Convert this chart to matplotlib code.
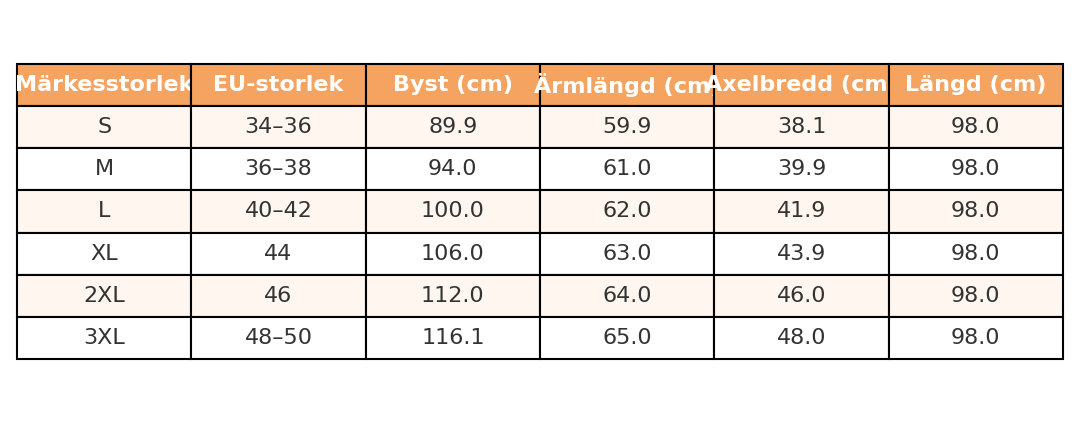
import matplotlib.pyplot as plt

# Data
columns = ['Märkesstorlek', 'EU-storlek', 'Byst (cm)', 'Ärmlängd (cm)', 'Axelbredd (cm)', 'Längd (cm)']
sizes = ['S', 'M', 'L', 'XL', '2XL', '3XL']
eu_sizes = ['34–36', '36–38', '40–42', '44', '46', '48–50']
bust = ['89.9', '94.0', '100.0', '106.0', '112.0', '116.1']
sleeve = ['59.9', '61.0', '62.0', '63.0', '64.0', '65.0']
shoulder = ['38.1', '39.9', '41.9', '43.9', '46.0', '48.0']
length = ['98.0', '98.0', '98.0', '98.0', '98.0', '98.0']

rows = [list(r) for r in zip(sizes, eu_sizes, bust, sleeve, shoulder, length)]

fig = plt.figure(figsize=(10.8, 4.24), dpi=100)
ax = fig.add_axes([0, 0, 1, 1])
ax.axis('off')

tbl = ax.table(cellText=rows, colLabels=columns, cellLoc='center',
               bbox=[17 / 1080, 65 / 424, 1046 / 1080, 295 / 424])
tbl.auto_set_font_size(False)

for (r, c), cell in tbl.get_celld().items():
    cell.set_edgecolor('black')
    cell.set_linewidth(1.5)
    if r == 0:
        cell.set_facecolor('#F4A460')
        cell.get_text().set_color('white')
        cell.get_text().set_fontweight('bold')
        cell.get_text().set_fontsize(16)
    else:
        cell.set_facecolor('#FFF7EF' if r % 2 == 1 else 'white')
        cell.get_text().set_color('#333333')
        cell.get_text().set_fontsize(16)

fig.savefig('out.png', dpi=100)
